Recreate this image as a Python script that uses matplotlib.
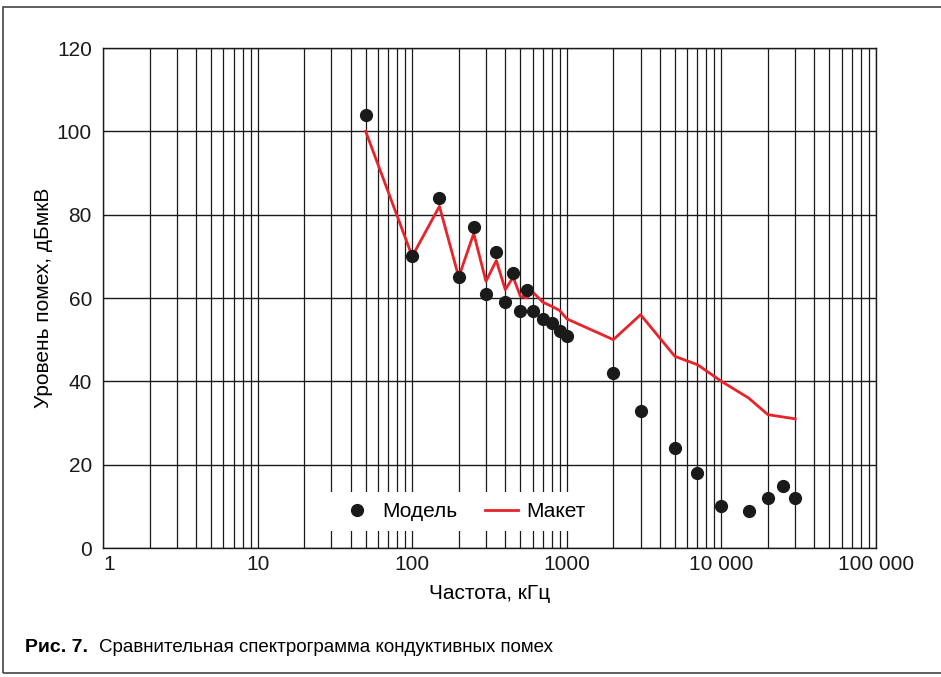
import matplotlib.pyplot as plt
import matplotlib.patches as patches
from matplotlib.ticker import FixedLocator, LogLocator, NullFormatter

plt.rcParams['font.family'] = ['Liberation Sans', 'DejaVu Sans']

# Модель (точки)
model_f = [50, 100, 150, 200, 250, 300, 350, 400, 450, 500, 550, 600, 700, 800, 900,
           1000, 2000, 3000, 5000, 7000, 10000, 15000, 20000, 25000, 30000]
model_db = [104, 70, 84, 65, 77, 61, 71, 59, 66, 57, 62, 57, 55, 54, 52,
            51, 42, 33, 24, 18, 10, 9, 12, 15, 12]

# Макет (линия)
maket_f = [50, 100, 150, 200, 250, 300, 350, 400, 450, 500, 550, 600, 700, 800, 900,
           1000, 2000, 3000, 5000, 7000, 10000, 15000, 20000, 30000]
maket_db = [100, 70, 82, 65, 75.5, 64, 69, 62, 65, 60.5, 60, 61.5, 59, 58, 57,
            55, 50, 56, 46, 44, 40, 36, 32, 31]

xticks = [1, 10, 100, 1000, 10000, 100000]
xlabels = ['1', '10', '100', '1000', '10 000', '100 000']
yticks = [0, 20, 40, 60, 80, 100, 120]

fig = plt.figure(figsize=(9.41, 6.77), dpi=100)
ax = fig.add_axes([103 / 941, 1 - 548 / 677, 773 / 941, 500 / 677])

ax.set_xscale('log')
ax.set_xlim(1, 100000)
ax.set_ylim(0, 120)

ax.plot(maket_f, maket_db, color='#e8232a', lw=2.0, label='Макет', zorder=3)
ax.plot(model_f, model_db, 'o', color='#1a1a1a', ms=8.5, label='Модель', zorder=4)

ax.xaxis.set_major_locator(FixedLocator(xticks))
ax.set_xticklabels(xlabels)
ax.xaxis.set_minor_locator(LogLocator(base=10, subs=range(2, 10), numticks=20))
ax.xaxis.set_minor_formatter(NullFormatter())
ax.set_yticks(yticks)

ax.grid(True, which='both', axis='x', color='#1a1a1a', lw=0.9)
ax.grid(True, which='major', axis='y', color='#1a1a1a', lw=1.0)
ax.set_axisbelow(True)
for s in ax.spines.values():
    s.set_color('#1a1a1a')
    s.set_linewidth(1.0)

ax.tick_params(which='both', length=0, labelsize=15, colors='#1a1a1a')
ax.tick_params(axis='x', pad=5)
ax.tick_params(axis='y', pad=8)
lbls = ax.get_xticklabels()
lbls[0].set_horizontalalignment('left')

ax.set_xlabel('Частота, кГц', fontsize=15, labelpad=7)
ax.set_ylabel('Уровень помех, дБмкВ', fontsize=15, labelpad=3)

h, l = ax.get_legend_handles_labels()
leg = ax.legend(h[::-1], l[::-1], loc='center', bbox_to_anchor=(0.466, 0.073), ncol=2,
                fontsize=15, frameon=True, facecolor='white', edgecolor='none',
                framealpha=1, fancybox=False, numpoints=1, handlelength=1.6,
                handletextpad=0.4, columnspacing=1.3, borderpad=0.5)
leg.get_frame().set_linewidth(0)

fig.text(25 / 941, 1 - 647 / 677, 'Рис. 7.', fontsize=14, fontweight='bold', va='center')
fig.text(99 / 941, 1 - 647 / 677, 'Сравнительная спектрограмма кондуктивных помех',
         fontsize=13.5, va='center')

fig.add_artist(patches.Rectangle((3 / 941, 4 / 677), 1.0, 1 - 11 / 677,
                                 transform=fig.transFigure, fill=False,
                                 edgecolor='#444444', lw=1.2))

fig.savefig('out.png', dpi=100)
